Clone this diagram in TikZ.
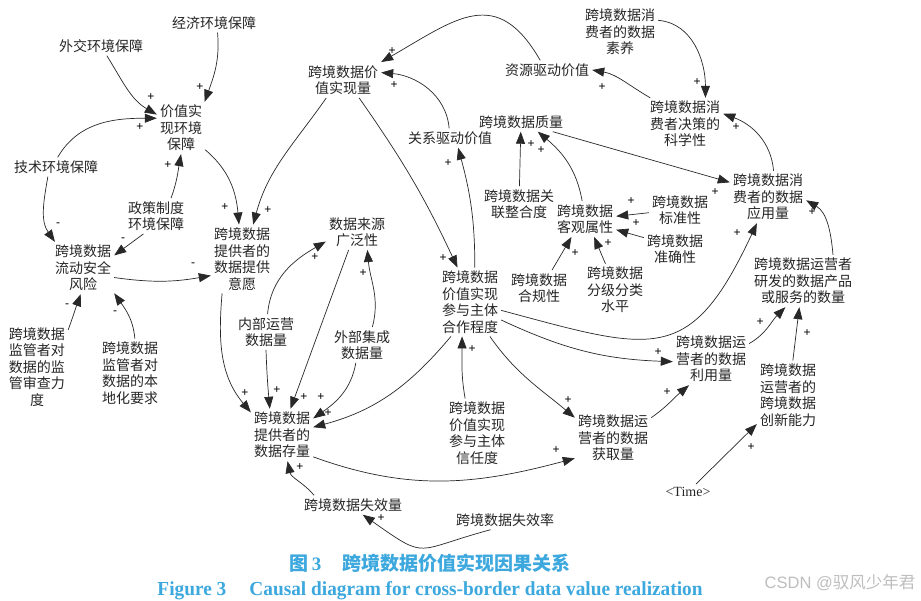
\documentclass[tikz,border=0pt]{standalone}
\usepackage{fontspec}
\newfontfamily\cjk{Noto Sans CJK SC}
\newfontfamily\timesf{Liberation Serif}
\newfontfamily\arialf{Liberation Sans}
\usetikzlibrary{arrows.meta}
\definecolor{capblue}{RGB}{60,168,222}
\definecolor{linegray}{RGB}{40,40,40}
\definecolor{markgray}{RGB}{190,190,190}
\begin{document}
\begin{tikzpicture}[x=1pt,y=1pt]
\tikzset{var/.style={align=center, inner sep=3pt, font=\cjk\fontsize{14}{16.5}\selectfont, text=black!85},
  link/.style={draw=linegray, line width=0.7pt, -{Triangle[length=12pt,width=9pt]}},
  pol/.style={inner sep=0pt, font=\arialf\fontsize{12}{12}\selectfont}}
\fill[white] (0,0) rectangle (921,-601);
\useasboundingbox (0,0) rectangle (921,-601);
\node[var] (econ) at (214,-23) {经济环境保障};
\node[var] (diplo) at (101,-46) {外交环境保障};
\node[var] (env) at (181,-128) {价值实\\现环境\\保障};
\node[var] (tech) at (56,-167) {技术环境保障};
\node[var] (policy) at (156,-216) {政策制度\\环境保障};
\node[var] (risk) at (83,-268) {跨境数据\\流动安全\\风险};
\node[var] (superv) at (37,-367) {跨境数据\\监管者对\\数据的监\\管审查力\\度};
\node[var] (local) at (130,-373) {跨境数据\\监管者对\\数据的本\\地化要求};
\node[var] (willing) at (242,-259) {跨境数据\\提供者的\\数据提供\\意愿};
\node[var] (internal) at (266,-332) {内部运营\\数据量};
\node[var] (breadth) at (357,-232) {数据来源\\广泛性};
\node[var] (external) at (362,-345) {外部集成\\数据量};
\node[var] (stock) at (282,-435) {跨境数据\\提供者的\\数据存量};
\node[var] (lossamt) at (353,-505) {跨境数据失效量};
\node[var] (lossrate) at (505,-520) {跨境数据失效率};
\node[var] (trust) at (477,-433) {跨境数据\\价值实现\\参与主体\\信任度};
\node[var] (coop) at (470,-302) {跨境数据\\价值实现\\参与主体\\合作程度};
\node[var] (value) at (343,-80) {跨境数据价\\值实现量};
\node[var] (resource) at (547,-70) {资源驱动价值};
\node[var] (relation) at (450,-138) {关系驱动价值};
\node[var] (quality) at (521,-122) {跨境数据质量};
\node[var] (literacy) at (620,-32) {跨境数据消\\费者的数据\\素养};
\node[var] (decision) at (685,-124) {跨境数据消\\费者决策的\\科学性};
\node[var] (usage) at (768,-197) {跨境数据消\\费者的数据\\应用量};
\node[var] (assoc) at (519,-204) {跨境数据关\\联整合度};
\node[var] (objective) at (585,-219) {跨境数据\\客观属性};
\node[var] (standard) at (680,-210) {跨境数据\\标准性};
\node[var] (accuracy) at (675,-249) {跨境数据\\准确性};
\node[var] (compliance) at (539,-288) {跨境数据\\合规性};
\node[var] (classif) at (615,-290) {跨境数据\\分级分类\\水平};
\node[var] (products) at (803,-281) {跨境数据运营者\\研发的数据产品\\或服务的数量};
\node[var] (utilize) at (711,-359) {跨境数据运\\营者的数据\\利用量};
\node[var] (innov) at (788,-395) {跨境数据\\运营者的\\跨境数据\\创新能力};
\node[var] (acquire) at (613,-438) {跨境数据运\\营者的数据\\获取量};
\node[var, font=\timesf\fontsize{14}{16}\selectfont] (time) at (688,-492) {<Time>};
\draw[link] (diplo.-59) to[out=-58,in=150] (env.151);
\draw[link] (econ.-70) to[out=-85,in=70] (env.48);
\draw[link] (tech.80) to[out=60,in=180] (env.158);
\draw[link] (policy.50) to[out=70,in=-100] (env.south);
\draw[link] (tech.-130) to[out=-100,in=125] (risk.137);
\draw[link] (policy.-125) -- (risk.22);
\draw[link] (risk.-17) to[out=-8,in=-170] (willing.-152);
\draw[link] (superv.50) to[out=70,in=-110] (risk.-95);
\draw[link] (local.82) to[out=95,in=-55] (risk.-39);
\draw[link] (env.-42) to[out=-40,in=95] (willing.95);
\draw[link] (value.-133) to[out=-125,in=75] (willing.72);
\draw[link] (willing.-120) to[out=-95,in=130] (stock.144);
\draw[link] (internal.south) to[out=-88,in=95] (stock.115);
\draw[link] (internal.85) to[out=85,in=-150] (breadth.-163);
\draw[link] (breadth.-115) -- (stock.72);
\draw[link] (external.60) to[out=75,in=-85] (breadth.-60);
\draw[link] (external.-109) to[out=-100,in=35] (stock.28);
\draw[link] (coop.-119) to[out=-130,in=15] (stock.14);
\draw[link] (stock.-35) to[out=-20,in=-165] (acquire.-152);
\draw[link] (lossamt.166) to[out=130,in=-78] (stock.-78);
\draw[link] (lossrate.-146) to[out=-165,in=-35,looseness=1.6] (lossamt.-45);
\draw[link] (trust.109) to[out=100,in=-90] (coop.-103);
\draw[link] (coop.-60) to[out=-55,in=140] (acquire.152);
\draw[link] (coop.-30) to[out=-25,in=178] (utilize.-176);
\draw[link] (coop.-15) to[out=-15,in=-115,looseness=1.5] (usage.-113);
\draw[link] (value.-48) to[out=-55,in=115] (coop.110);
\draw[link] (coop.82) to[out=90,in=-75] (relation.-50);
\draw[link] (relation.95) to[out=95,in=-5] (value.11);
\draw[link] (resource.125) to[out=120,in=30,looseness=1.4] (value.north east);
\draw[link] (decision.143) to[out=150,in=-10] (resource.east);
\draw[link] (literacy.17) to[out=-5,in=90] (decision.52);
\draw[link] (usage.78) to[out=95,in=-20] (decision.15);
\draw[link] (quality.-17) -- (usage.159);
\draw[link] (assoc) -- (quality);
\draw[link] (objective.99) to[out=100,in=-40] (quality.-30);
\draw[link] (standard.-175) -- (objective.5);
\draw[link] (accuracy.160) -- (objective.-19);
\draw[link] (compliance.54) -- (objective.-127);
\draw[link] (classif.110) -- (objective.-63);
\draw[link] (utilize.22) to[out=30,in=-135] (products.-124);
\draw[link] (innov.82) -- (products.-98);
\draw[link] ([xshift=30pt]products.north) to[out=95,in=-30] (usage.-5);
\draw[link] (acquire.28) to[out=35,in=-140] (utilize.-130);
\draw[link] (time.45) -- (innov.-137);
\foreach \px/\py [count=\i] in {151/97, 200/87, 140/127, 168/165, 225/207, 268/210, 245/393, 277/390, 315/257, 304/397, 363/273, 321/397, 328/413, 556/450, 300/467, 381/518, 472/349, 568/400, 658/352, 737/233, 443/258, 448/163, 394/85, 392/51, 602/87, 697/82, 736/127, 715/192, 531/144, 541/150, 631/201, 636/223, 575/253, 608/243, 760/322, 807/333, 812/212, 667/392, 751/447}
  \node[pol] (plus\i) at (\px,-\py) {+};
\foreach \px/\py [count=\i] in {58/225, 123/240, 193/265, 67/306, 115/313}
  \node[pol] (minus\i) at (\px,-\py) {-};
\node[text=capblue, font=\cjk\bfseries\fontsize{19}{19}\selectfont] (captitle) at (430,-563) {图\,{\timesf 3}\hspace{1.1em}跨境数据价值实现因果关系};
\node[text=capblue, inner sep=0pt] (capen) at (430,-591) {\resizebox{545pt}{14pt}{\timesf\bfseries Figure 3\hspace{1.2em}Causal diagram for cross-border data value realization}};
\node[text=markgray, font=\arialf\fontsize{16.5}{16.5}\selectfont] (csdn) at (840,-583) {CSDN @{\cjk 驭风少年君}};
\end{tikzpicture}
\end{document}
